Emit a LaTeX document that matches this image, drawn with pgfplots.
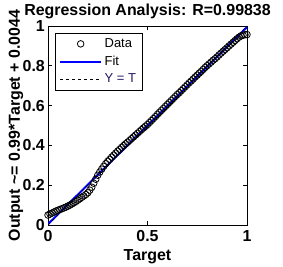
\documentclass[border=0pt]{standalone}
\usepackage{fontspec}
\setmainfont{Liberation Sans}
\usepackage{pgfplots}
\pgfplotsset{compat=1.18}
\definecolor{navytxt}{RGB}{40,25,100}
\pgfplotsset{
  fitlegend/.style={legend image code/.code={\draw[blue, line width=2bp] (0bp,0bp) -- (41bp,0bp);}},
  ytlegend/.style={legend image code/.code={\draw[black, dashed, line width=0.5bp] (0bp,0bp) -- (41bp,0bp);}},
  mymarklegend/.style={legend image code/.code={\draw[mark repeat=2,mark phase=2,##1] plot coordinates {(0bp,0bp)(20.5bp,0bp)(41bp,0bp)};}},
}
\begin{document}
\begin{tikzpicture}
\useasboundingbox (-48bp,-42bp) rectangle (235bp,225bp);
\begin{axis}[
  at={(0,0)}, anchor=south west,
  scale only axis, width=199bp, height=199bp,
  xmin=0, xmax=1, ymin=0, ymax=1,
  xtick={0,0.5,1}, ytick={0,0.2,0.4,0.6,0.8,1},
  xticklabels={0,0.5,1}, yticklabels={0,0.2,0.4,0.6,0.8,1},
  tick align=inside, major tick length=4bp,
  axis line style={line width=0.8bp},
  every tick/.style={black, line width=0.8bp},
  /pgf/number format/assume math mode=true,
  tick label style={font=\bfseries\fontsize{16}{16}\selectfont},
  yticklabel style={inner sep=1bp, xshift=-2bp},
  xticklabel style={inner sep=1bp, yshift=-4bp},
  every axis title shift=0pt,
  title={Regression Analysis: R=0.99838},
  title style={font=\bfseries\fontsize{16}{16}\selectfont, at={(axis description cs:0.5,1.055)}, anchor=base, inner sep=0},
  xlabel={Target},
  xlabel style={font=\bfseries\fontsize{16}{16}\selectfont, at={(axis description cs:0.5,-0.176)}, anchor=base, inner sep=0},
  ylabel={Output \textasciitilde= 0.99*Target + 0.0044},
  ylabel style={font=\bfseries\fontsize{16}{16}\selectfont, at={(axis description cs:-0.1407,0.5)}, anchor=base, inner sep=0},
  legend style={at={(axis description cs:0.035,0.965)}, anchor=north west,
    font=\fontsize{13}{13}\selectfont, inner xsep=4bp, inner ysep=3bp, row sep=2bp,
    nodes={inner sep=2.5bp, text depth=0.15em}},
  legend cell align=left,
]
\addplot[only marks, mark=o, mark size=3.3bp, mark options={line width=0.8bp, black}, mymarklegend] coordinates {
(0.00,0.050)(0.01,0.055)(0.02,0.060)(0.03,0.065)(0.04,0.070)(0.05,0.074)(0.06,0.078)(0.07,0.082)(0.08,0.086)(0.09,0.090)
(0.10,0.095)(0.11,0.100)(0.12,0.106)(0.13,0.112)(0.14,0.118)(0.15,0.125)(0.16,0.132)(0.17,0.139)(0.18,0.146)(0.19,0.153)
(0.20,0.162)(0.21,0.175)(0.22,0.190)(0.23,0.210)(0.24,0.230)(0.25,0.250)(0.26,0.266)(0.27,0.281)(0.28,0.295)(0.29,0.308)
(0.30,0.320)(0.31,0.330)(0.32,0.341)(0.33,0.351)(0.34,0.361)(0.35,0.371)(0.36,0.380)(0.37,0.390)(0.38,0.399)(0.39,0.408)
(0.40,0.416)(0.41,0.425)(0.42,0.434)(0.43,0.443)(0.44,0.452)(0.45,0.461)(0.46,0.470)(0.47,0.479)(0.48,0.488)(0.49,0.496)
(0.50,0.505)(0.51,0.515)(0.52,0.525)(0.53,0.535)(0.54,0.545)(0.55,0.556)(0.56,0.566)(0.57,0.576)(0.58,0.586)(0.59,0.596)
(0.60,0.606)(0.61,0.616)(0.62,0.626)(0.63,0.636)(0.64,0.646)(0.65,0.656)(0.66,0.665)(0.67,0.675)(0.68,0.685)(0.69,0.695)
(0.70,0.705)(0.71,0.715)(0.72,0.724)(0.73,0.734)(0.74,0.744)(0.75,0.753)(0.76,0.763)(0.77,0.772)(0.78,0.782)(0.79,0.792)
(0.80,0.801)(0.81,0.810)(0.82,0.819)(0.83,0.828)(0.84,0.836)(0.85,0.845)(0.86,0.855)(0.87,0.864)(0.88,0.873)(0.89,0.882)
(0.90,0.891)(0.91,0.900)(0.92,0.909)(0.93,0.918)(0.94,0.927)(0.95,0.936)(0.96,0.944)(0.97,0.950)(0.98,0.954)(0.99,0.956)
(1.00,0.957)};
\addlegendentry{Data}
\addplot[draw=blue, line width=2bp, fitlegend] coordinates {(0,0.0044)(1,0.9944)};
\addlegendentry{Fit}
\addplot[draw=black, dashed, line width=0.5bp, ytlegend] coordinates {(0,0)(1,1)};
\addlegendentry{\textcolor{navytxt}{Y = T}}
\end{axis}
\end{tikzpicture}
\end{document}
